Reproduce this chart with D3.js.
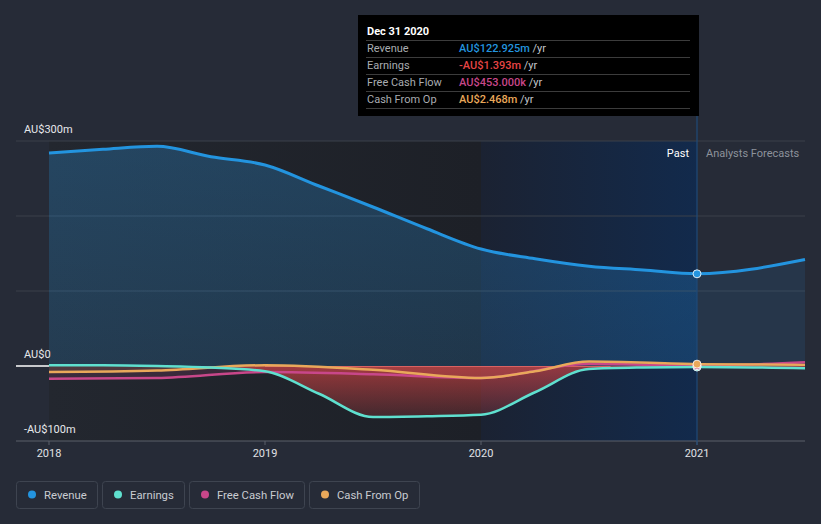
<!DOCTYPE html>
<html><head><meta charset="utf-8">
<script src="https://cdn.jsdelivr.net/npm/d3@7"></script>
<style>
html,body{margin:0;padding:0;background:#262b37;}
svg{display:block;font-family:Roboto,"Noto Sans",sans-serif;}
</style></head>
<body>
<svg id="chart" width="821" height="524"></svg>
<script>
// ---- data ----
const revenueDates = [2018.0,2018.25,2018.5,2018.75,2019.0,2019.25,2019.5,2019.75,2020.0,2020.25,2020.5,2020.75,2021.0,2021.5];
const revenueValues = [284,289,293,279,268,240,212,183,156,143,133,128,122.925,142];
const earningsDates = [2018.0,2018.25,2018.5,2018.75,2019.0,2019.25,2019.5,2019.75,2020.0,2020.25,2020.5,2020.75,2021.0,2021.5];
const earningsValues = [1,1,0,-2,-7,-37,-68,-67,-65,-35,-4,-2,-1.393,-3];
const fcfDates = [2018.0,2018.5,2019.0,2019.5,2020.0,2020.5,2021.0,2021.5];
const fcfValues = [-17,-16,-8,-11,-16,3,0.453,5];
const cfoDates = [2018.0,2018.5,2019.0,2019.5,2020.0,2020.25,2020.5,2021.0,2021.5];
const cfoValues = [-8,-6,1,-5,-16,-7,6,2.468,1.5];
const yTicks = [-100,0,300];
const yTickLabels = ["-AU$100m","AU$0","AU$300m"];
const gridValues = [100,200,300];
const xTicks = [2018,2019,2020,2021];
const xTickLabels = ["2018","2019","2020","2021"];
const seriesNames = ["Revenue","Earnings","Free Cash Flow","Cash From Op"];
const seriesColors = ["#2394df","#5fe0cf","#c8478a","#e9a85a"];
const tooltipTitle = "Dec 31 2020";
const tooltipValues = ["AU$122.925m","-AU$1.393m","AU$453.000k","AU$2.468m"];
const tooltipColors = ["#2394df","#e64545","#c8478a","#e9a85a"];
const pastStart = 2018.0, highlightStart = 2020.0, nowDate = 2021.0;

// ---- layout ----
const svg = d3.select("#chart");
const x = d3.scaleLinear().domain([2018, 2021.5]).range([49, 805]);
const y = d3.scaleLinear().domain([-100, 300]).range([441, 141]);
const left = 16, right = 805;

const defs = svg.append("defs");
const g1 = defs.append("linearGradient").attr("id","pastBg").attr("x1","0").attr("x2","1").attr("y1","0").attr("y2","0");
g1.append("stop").attr("offset","0").attr("stop-color","#23272f");
g1.append("stop").attr("offset","1").attr("stop-color","#1d2027");
const g2 = defs.append("linearGradient").attr("id","hlBg").attr("x1","0").attr("x2","1").attr("y1","0").attr("y2","0");
g2.append("stop").attr("offset","0").attr("stop-color","#1b2232");
g2.append("stop").attr("offset","1").attr("stop-color","#122a4c");
const g3 = defs.append("linearGradient").attr("id","earnFill").attr("gradientUnits","userSpaceOnUse")
  .attr("x1",0).attr("x2",0).attr("y1",y(0)).attr("y2",y(-70));
g3.append("stop").attr("offset","0").attr("stop-color","#d84444").attr("stop-opacity",0.65);
g3.append("stop").attr("offset","1").attr("stop-color","#d84444").attr("stop-opacity",0.18);
const g4 = defs.append("linearGradient").attr("id","revFill").attr("gradientUnits","userSpaceOnUse")
  .attr("x1",0).attr("x2",0).attr("y1",y(300)).attr("y2",y(0));
g4.append("stop").attr("offset","0").attr("stop-color","#2a8fd8").attr("stop-opacity",0.3);
g4.append("stop").attr("offset","1").attr("stop-color","#2a8fd8").attr("stop-opacity",0.2);
defs.append("clipPath").attr("id","clipPast").append("rect")
  .attr("x",0).attr("y",0).attr("width",x(nowDate)).attr("height",524);
defs.append("clipPath").attr("id","clipFut").append("rect")
  .attr("x",x(nowDate)).attr("y",0).attr("width",821-x(nowDate)).attr("height",524);

// backgrounds
svg.append("rect").attr("x",x(pastStart)).attr("y",y(300)).attr("width",x(highlightStart)-x(pastStart))
  .attr("height",y(-100)-y(300)).attr("fill","url(#pastBg)");
svg.append("rect").attr("x",x(highlightStart)).attr("y",y(300)).attr("width",x(nowDate)-x(highlightStart))
  .attr("height",y(-100)-y(300)).attr("fill","url(#hlBg)");

// grid
svg.selectAll("line.grid").data(gridValues).enter().append("line")
  .attr("x1",left).attr("x2",right).attr("y1",d=>y(d)).attr("y2",d=>y(d))
  .attr("stroke","#3b404b").attr("stroke-width",1);

// series
const mk = (dates, vals) => dates.map((d,i)=>({d, v: vals[i]}));
const rev = mk(revenueDates, revenueValues);
const earn = mk(earningsDates, earningsValues);
const fcf = mk(fcfDates, fcfValues);
const cfo = mk(cfoDates, cfoValues);
const curve = d3.curveMonotoneX;
const area = d3.area().x(p=>x(p.d)).y0(y(0)).y1(p=>y(p.v)).curve(curve);
const line = d3.line().x(p=>x(p.d)).y(p=>y(p.v)).curve(curve);

svg.append("path").attr("d",area(rev)).attr("fill","url(#revFill)").attr("clip-path","url(#clipPast)");
svg.append("path").attr("d",area(rev)).attr("fill","#2a8fd8").attr("fill-opacity",0.12).attr("clip-path","url(#clipFut)");
svg.append("path").attr("d",area(fcf)).attr("fill","#c8478a").attr("fill-opacity",0.15);
svg.append("path").attr("d",area(cfo)).attr("fill","#e9a85a").attr("fill-opacity",0.12);
svg.append("path").attr("d",area(earn)).attr("fill","url(#earnFill)");

// zero line
svg.append("line").attr("x1",left).attr("x2",x(pastStart)).attr("y1",y(0)).attr("y2",y(0))
  .attr("stroke","#ffffff").attr("stroke-width",1.5);
svg.append("line").attr("x1",x(2019)).attr("x2",x(2020.6)).attr("y1",y(0)+0.5).attr("y2",y(0)+0.5)
  .attr("stroke","#f07070").attr("stroke-opacity",0.7).attr("stroke-width",1);

// bottom axis
svg.append("line").attr("x1",left).attr("x2",right).attr("y1",y(-100)).attr("y2",y(-100))
  .attr("stroke","#5b606b").attr("stroke-width",1);
svg.selectAll("line.xt").data(xTicks).enter().append("line")
  .attr("x1",d=>x(d)).attr("x2",d=>x(d)).attr("y1",y(-100)).attr("y2",y(-100)+4)
  .attr("stroke","#5b606b");
svg.selectAll("text.xl").data(xTicks).enter().append("text")
  .attr("x",d=>x(d)).attr("y",457).attr("text-anchor","middle")
  .attr("font-size",11).attr("fill","#e0e2e6").text((d,i)=>xTickLabels[i]);

// now line
svg.append("line").attr("x1",x(nowDate)).attr("x2",x(nowDate)).attr("y1",116).attr("y2",y(-100)+4)
  .attr("stroke","#1f4a78").attr("stroke-width",1.2);

// lines
svg.append("path").attr("d",line(rev)).attr("fill","none").attr("stroke",seriesColors[0]).attr("stroke-width",3);
svg.append("path").attr("d",line(fcf)).attr("fill","none").attr("stroke",seriesColors[2]).attr("stroke-width",2.5);
svg.append("path").attr("d",line(cfo)).attr("fill","none").attr("stroke",seriesColors[3]).attr("stroke-width",2.5);
svg.append("path").attr("d",line(earn)).attr("fill","none").attr("stroke",seriesColors[1]).attr("stroke-width",2.5);

// dots at now
const nowVals = [
  {v: earningsValues[earningsDates.indexOf(nowDate)], c: seriesColors[1]},
  {v: fcfValues[fcfDates.indexOf(nowDate)], c: seriesColors[2]},
  {v: cfoValues[cfoDates.indexOf(nowDate)], c: seriesColors[3]},
  {v: revenueValues[revenueDates.indexOf(nowDate)], c: seriesColors[0]}
];
svg.selectAll("circle.now").data(nowVals).enter().append("circle")
  .attr("cx",x(nowDate)).attr("cy",d=>y(d.v)).attr("r",4)
  .attr("fill",d=>d.c).attr("stroke","#ffffff").attr("stroke-width",1).attr("stroke-opacity",0.85);

// y labels
svg.selectAll("text.yl").data(yTicks).enter().append("text")
  .attr("x",24).attr("y",d=>y(d)-8).attr("font-size",11).attr("fill","#e6e8eb")
  .text((d,i)=>yTickLabels[i]);

// past / forecast
svg.append("text").attr("x",689).attr("y",157).attr("text-anchor","end").attr("font-size",11)
  .attr("fill","#ffffff").text("Past");
svg.append("text").attr("x",706).attr("y",157).attr("font-size",11)
  .attr("fill","#8d929b").text("Analysts Forecasts");

// tooltip
const tt = svg.append("g");
tt.append("rect").attr("x",358).attr("y",15).attr("width",341).attr("height",101).attr("fill","#000");
tt.append("text").attr("x",367).attr("y",35).attr("font-size",11).attr("font-weight","bold")
  .attr("fill","#ffffff").text(tooltipTitle);
const rowY = [40,57,74,91,108];
rowY.forEach(ry=>tt.append("line").attr("x1",366).attr("x2",690).attr("y1",ry+0.5).attr("y2",ry+0.5)
  .attr("stroke","#3c3c3c").attr("stroke-width",1));
seriesNames.forEach((n,i)=>{
  tt.append("text").attr("x",367).attr("y",rowY[i]+12).attr("font-size",11).attr("fill","#a9acb1").text(n);
  const t = tt.append("text").attr("x",459).attr("y",rowY[i]+12).attr("font-size",11);
  t.append("tspan").attr("fill",tooltipColors[i]).attr("font-weight",500).text(tooltipValues[i]);
  t.append("tspan").attr("fill","#c3c6cb").text(" /yr");
});

// legend
const legX = [16,102,189,309], legW = [81,82,115,110];
seriesNames.forEach((n,i)=>{
  const lg = svg.append("g");
  lg.append("rect").attr("x",legX[i]+0.5).attr("y",481.5).attr("width",legW[i]).attr("height",27)
    .attr("rx",3).attr("fill","none").attr("stroke","#3e4450");
  lg.append("circle").attr("cx",legX[i]+16).attr("cy",494.5).attr("r",4).attr("fill",seriesColors[i]);
  lg.append("text").attr("x",legX[i]+28).attr("y",498.5).attr("font-size",11.3).attr("fill","#c9ccd1").text(n);
});
</script>
</body></html>
